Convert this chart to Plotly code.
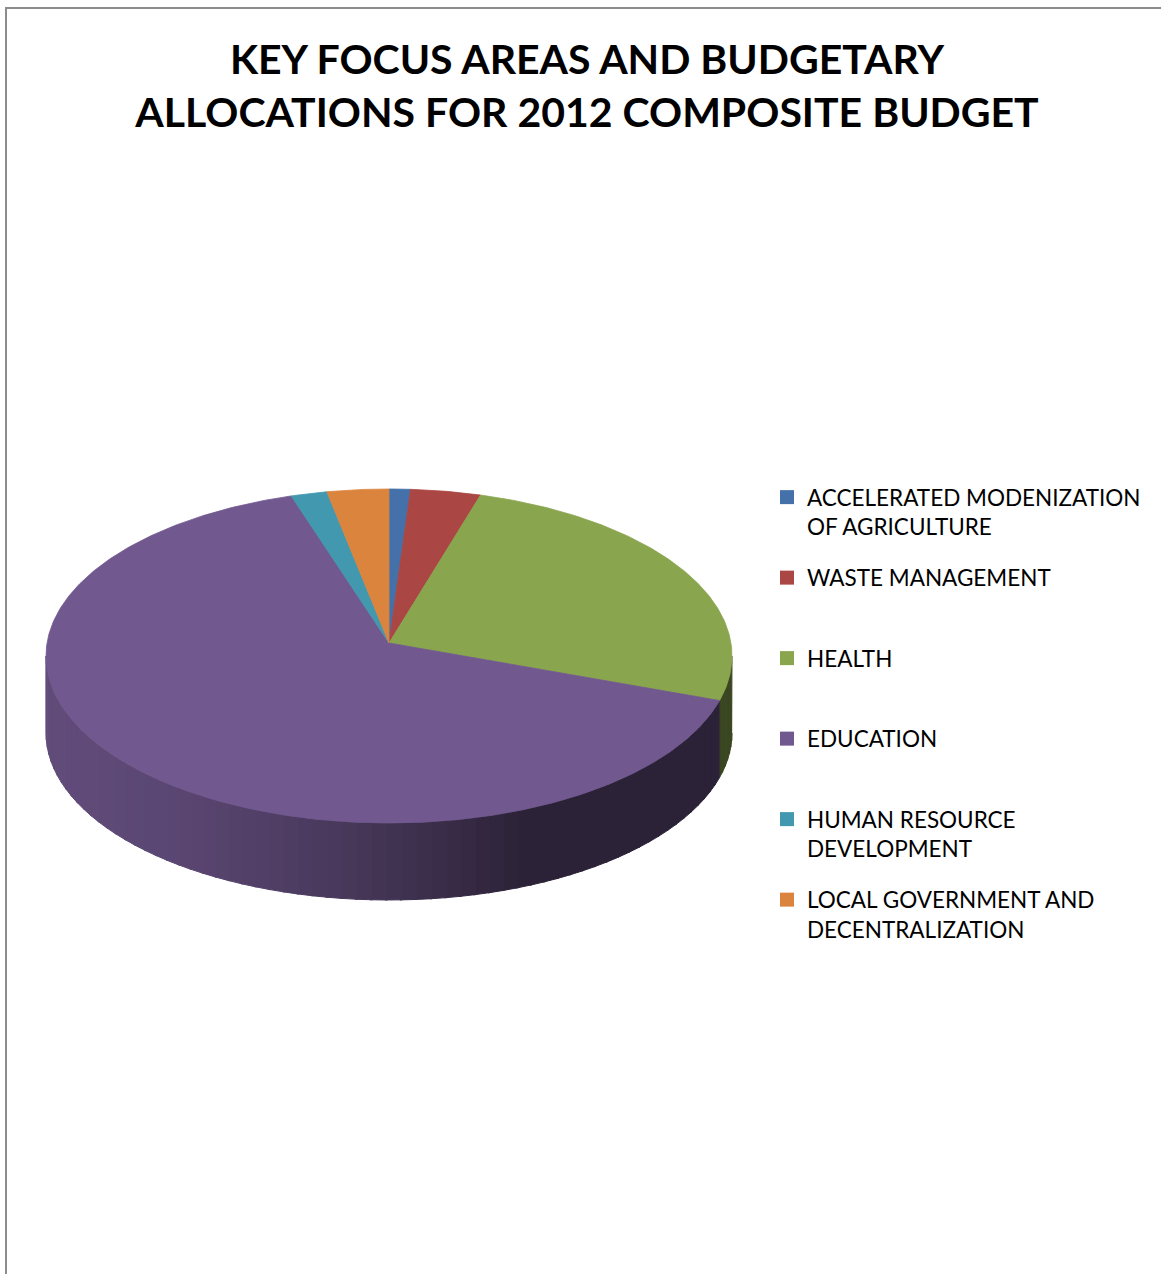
import numpy as np
import plotly.graph_objects as go

# Budget focus areas and their share of the 2012 composite budget (%)
categories = [
    "ACCELERATED MODENIZATION OF AGRICULTURE",
    "WASTE MANAGEMENT",
    "HEALTH",
    "EDUCATION",
    "HUMAN RESOURCE DEVELOPMENT",
    "LOCAL GOVERNMENT AND DECENTRALIZATION",
]
legend_labels = [
    "ACCELERATED MODENIZATION<br>OF AGRICULTURE",
    "WASTE MANAGEMENT<br>&nbsp;",
    "HEALTH<br>&nbsp;",
    "EDUCATION<br>&nbsp;",
    "HUMAN RESOURCE<br>DEVELOPMENT",
    "LOCAL GOVERNMENT AND<br>DECENTRALIZATION",
]
shares = [1.0, 3.3, 25.0, 66.1, 1.7, 2.9]
colors = ["#4571ab", "#aa4643", "#89a54e", "#71588f", "#4198af", "#db843d"]

W, H = 1161, 1274

# Tilted-disc geometry (pixel-like data units, y grows downward)
CX, CY = 389.0, 656.0
RX, RY = 343.0, 167.0
APEX = (389.0, 643.0)
DEPTH = 77.0


def hex_rgb(h):
    h = h.lstrip("#")
    return tuple(int(h[i:i + 2], 16) for i in (0, 2, 4))


def shade(h, f):
    r, g, b = hex_rgb(h)
    return "rgb(%d,%d,%d)" % (round(r * f), round(g * f), round(b * f))


def rim(theta_deg, drop=0.0):
    t = np.radians(theta_deg)
    return CX + RX * np.sin(t), CY - RY * np.cos(t) + drop


fig = go.Figure()

total = float(sum(shares))
bounds = np.concatenate([[0.0], np.cumsum(shares) / total * 360.0])

# Front walls of the disc (visible between 90 and 270 degrees), shaded left to right
for i, col in enumerate(colors):
    a0, a1 = max(bounds[i], 90.0), min(bounds[i + 1], 270.0)
    if a1 <= a0:
        continue
    n = max(1, int(np.ceil((a1 - a0) / 2.5)))
    edges = np.linspace(a0, a1, n + 1)
    for k in range(n):
        s0, s1 = edges[k], min(edges[k + 1] + 0.4, a1)
        th = np.linspace(s0, s1, 8)
        xt, yt = rim(th)
        xb, yb = rim(th[::-1], DEPTH)
        xm = float(np.mean(xt))
        t = np.clip((xm - 46.0) / (520.0 - 46.0), 0.0, 1.0)
        f = 0.85 - 0.46 * t ** 1.6
        if i == 2:
            f = 0.42
        c = shade(col, f)
        fig.add_trace(go.Scatter(
            x=np.concatenate([xt, xb]), y=np.concatenate([yt, yb]),
            mode="lines", fill="toself", fillcolor=c,
            line=dict(color=c, width=1), hoverinfo="skip", showlegend=False,
        ))

# Top faces of the slices
for i, col in enumerate(colors):
    th = np.linspace(bounds[i], bounds[i + 1], max(4, int((bounds[i + 1] - bounds[i]) * 2)))
    xa, ya = rim(th)
    fig.add_trace(go.Scatter(
        x=np.concatenate([[APEX[0]], xa, [APEX[0]]]),
        y=np.concatenate([[APEX[1]], ya, [APEX[1]]]),
        mode="lines", fill="toself", fillcolor=col,
        line=dict(color=col, width=0.8),
        name=categories[i], showlegend=False,
        hovertemplate=categories[i] + ": %{text}%<extra></extra>",
        text=[shares[i]] * (len(th) + 2),
    ))

# Legend entries
for i, col in enumerate(colors):
    fig.add_trace(go.Scatter(
        x=[None], y=[None], mode="markers",
        marker=dict(symbol="square", size=14, color=col),
        name=legend_labels[i], legendgroup="g%d" % i, showlegend=True,
    ))

fig.update_layout(
    width=W, height=H,
    margin=dict(l=0, r=0, t=0, b=0),
    paper_bgcolor="white", plot_bgcolor="white",
    font=dict(family="Lato, 'Open Sans', sans-serif", color="#000000"),
    title=dict(
        text="KEY FOCUS AREAS AND BUDGETARY<br>ALLOCATIONS FOR 2012 COMPOSITE BUDGET",
        x=587 / W, xanchor="center",
        y=1 - 74 / H, yanchor="middle", yref="container",
        font=dict(size=41, family="Lato, 'Open Sans', sans-serif", color="#000000",
                  weight="bold"),
    ),
    xaxis=dict(range=[0, W], visible=False, domain=[0, 1], fixedrange=True),
    yaxis=dict(range=[H, 0], visible=False, domain=[0, 1], fixedrange=True),
    showlegend=True,
    legend=dict(
        x=767 / W, xanchor="left", y=1 - 476 / H, yanchor="top",
        font=dict(size=22.5, color="#000000"),
        traceorder="grouped", tracegroupgap=19, valign="top",
        bgcolor="rgba(0,0,0,0)",
    ),
    shapes=[dict(
        type="rect", xref="paper", yref="paper",
        x0=6 / W, x1=1.01, y0=-0.01, y1=1 - 8 / H,
        line=dict(color="#8c8c8c", width=2), fillcolor="rgba(0,0,0,0)",
    )],
)

fig.write_html("out.html")
